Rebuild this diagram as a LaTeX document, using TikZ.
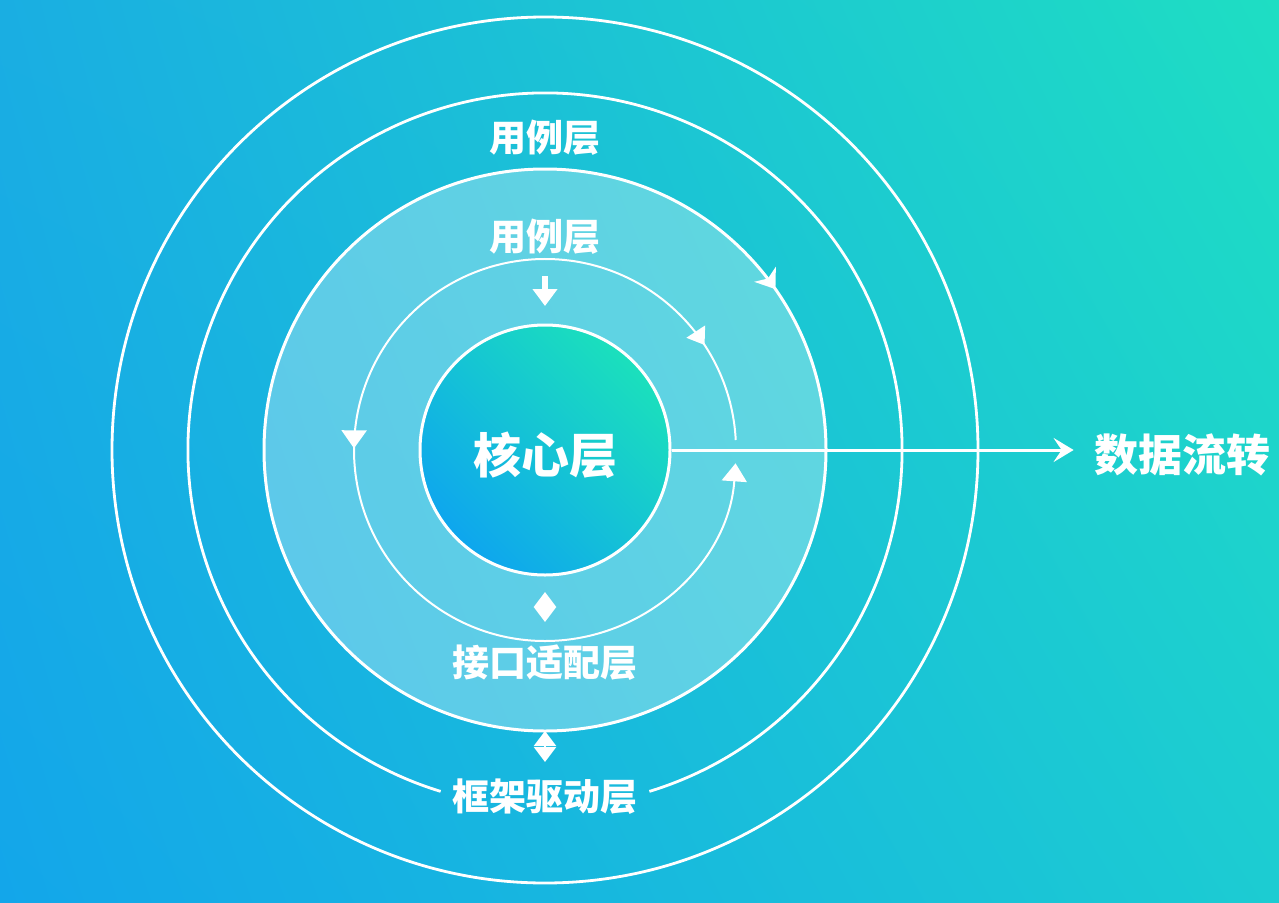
\documentclass[tikz,border=0pt]{standalone}
\usepackage{fontspec}
\newfontfamily\cjk{Noto Sans CJK SC}
\usetikzlibrary{arrows.meta,decorations.markings,shadings}
\definecolor{bgUL}{HTML}{1AAEE2}
\definecolor{bgUR}{HTML}{1EDEC3}
\definecolor{bgLL}{HTML}{13A6EA}
\definecolor{bgLR}{HTML}{1CCCD2}
\definecolor{coreA}{HTML}{0EA6EE}
\definecolor{coreB}{HTML}{1BE0BC}
\tikzset{
  ring/.style={draw=white, line width=1.4pt},
  loopline/.style={draw=white, line width=1pt},
  lbl/.style={text=white, font=\cjk\bfseries\fontsize{18.5pt}{21pt}\selectfont, inner sep=0pt},
  bigl/.style={text=white, font=\cjk\bfseries\fontsize{24pt}{27pt}\selectfont, inner sep=0pt},
  dbl/.style={white, line width=1.2pt, {Triangle[length=7.5pt,width=11pt]}-{Triangle[length=7.5pt,width=11pt]}}
}
\begin{document}
\begin{tikzpicture}[x=0.5pt,y=0.5pt]
\useasboundingbox (0,0) rectangle (1279,902);
\shade[upper left=bgUL, upper right=bgUR, lower left=bgLL, lower right=bgLR] (0,0) rectangle (1279,902);
\coordinate (C) at (545,452);
% outer circle
\draw[ring] (C) circle[radius=433];
% second circle with a gap for the bottom label
\draw[ring] (C) ++(287:357) arc[start angle=287, end angle=613, radius=357];
% light filled ring
\fill[white, opacity=0.3] (C) circle[radius=281];
\draw[ring, line width=1.5pt, postaction={decorate},
  decoration={markings, mark=at position 0.097 with {\arrowreversed[white]{Stealth[length=9pt,width=13pt,inset=2.5pt]}}}]
  (C) ++(0:281) arc[start angle=0, end angle=360, radius=281];
% inner loop arc
\draw[loopline, -{Triangle[length=9pt,width=12.5pt]}, postaction={decorate},
  decoration={markings,
    mark=at position 0.086 with {\arrowreversed[white]{Triangle[length=8pt,width=11pt]}},
    mark=at position 0.5 with {\arrow[white]{Triangle[length=9pt,width=12.5pt]}}}]
  (C) ++(3:191) arc[start angle=3, end angle=356, radius=191];
% core
\node[circle, minimum size=125pt, inner sep=0pt, draw=white, line width=1.5pt,
  top color=coreA, bottom color=coreB, shading angle=135] (core) at (C) {};
\node[bigl] (corel) at (545,447) {核心层};
% labels
\node[lbl] (uc1) at (545,764) {用例层};
\node[lbl] (uc2) at (545,665) {用例层};
\node[lbl] (ia) at (545,239) {接口适配层};
\node[lbl] (fd) at (545,105) {框架驱动层};
\node[text=white, font=\cjk\bfseries\fontsize{22pt}{25pt}\selectfont, inner sep=0pt] (data) at (1182,447) {数据流转};
% small arrows
\coordinate (a1s) at (545,626);
\coordinate (a1e) at (545,596);
\draw[white, line width=3pt, -{Triangle[length=8.5pt,width=12pt]}] (a1s) -- (a1e);
\coordinate (d1a) at (545,310);
\coordinate (d1b) at (545,280);
\draw[dbl] (d1a) -- (d1b);
\coordinate (d2a) at (545,171);
\coordinate (d2b) at (545,140);
\draw[dbl] (d2a) -- (d2b);
% data flow arrow
\draw[white, line width=1.5pt, -{Stealth[length=10pt,width=12pt,inset=4pt]}, shorten >=10pt] (core.east) -- (data.west |- core.east);
\end{tikzpicture}
\end{document}
